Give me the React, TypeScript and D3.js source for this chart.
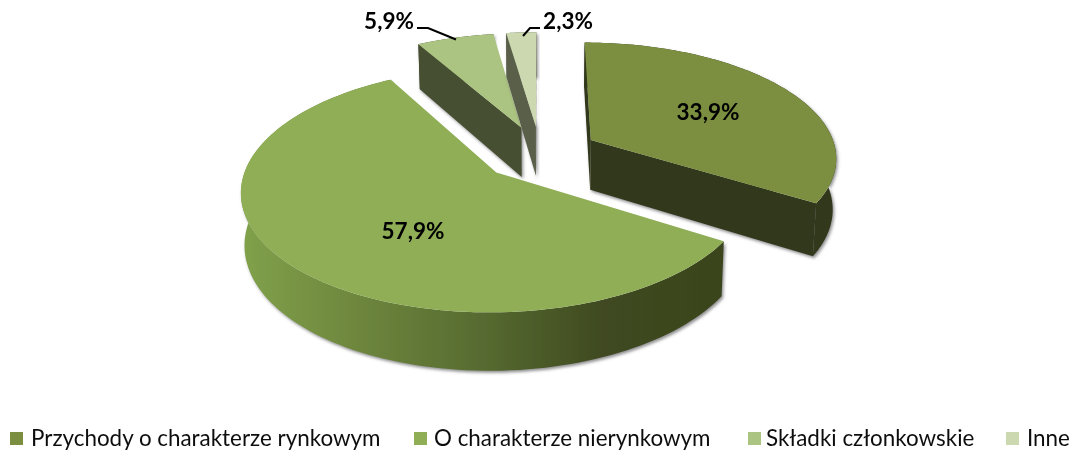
import React from "react";
import * as d3 from "d3";

const categories = ["Przychody o charakterze rynkowym", "O charakterze nierynkowym", "Składki członkowskie", "Inne"];
const values = [33.9, 57.9, 5.9, 2.3];
const valueLabels = ["33,9%", "57,9%", "5,9%", "2,3%"];
const topColors = ["#7b8f40", "#8fae56", "#abc482", "#cbd8b0"];
const wallColors = ["#33391a", "#3f4a20", "#464f30", "#5a5f4a"];
const legendSquareX = [10, 414, 748, 1006];
const legendTextX = [31, 434, 766, 1027];
const labelPos: [number, number][] = [[708, 120], [413, 239], [389, 29], [568, 29]];

const W = 1073, H = 450;
const cx = 540, cy = 153, R = 246, tilt = 0.465, persp = 0.14, explode = 59, depth = 50.5, shrink = 0.988;

type P = [number, number];
function project(u: number, v: number, bottom: boolean): P {
  const k = 1 / (1 - (persp * v) / R);
  const x = u * k;
  const y = v * tilt * k;
  if (!bottom) return [cx + x, cy + y];
  return [cx + x * shrink, cy + y * shrink + depth * k];
}

const pieGen = d3.pie<number>().sort(null).startAngle(0).endAngle(2 * Math.PI);
const arcs = pieGen(values);
const path = d3.line<P>().x(d => d[0]).y(d => d[1]);

function dirOf(a: number): P { return [Math.sin(a), -Math.cos(a)]; }

function sliceGeom(a0: number, a1: number) {
  const mid = (a0 + a1) / 2;
  const [ex, ey] = dirOf(mid);
  const ox = ex * explode, oy = ey * explode;
  const pt = (a: number, r: number, bottom: boolean) => {
    const [dx, dy] = dirOf(a);
    return project(ox + dx * r, oy + dy * r, bottom);
  };
  const angles = d3.range(0, 121).map(i => a0 + ((a1 - a0) * i) / 120);
  const top: P[] = [pt(a0, 0, false), ...angles.map(a => pt(a, R, false))];
  const wallStart: P[] = [pt(a0, 0, false), pt(a0, R, false), pt(a0, R, true), pt(a0, 0, true)];
  const wallEnd: P[] = [pt(a1, R, false), pt(a1, 0, false), pt(a1, 0, true), pt(a1, R, true)];
  const outer: P[] = [...angles.map(a => pt(a, R, false)), ...angles.slice().reverse().map(a => pt(a, R, true))];
  return { top, wallStart, wallEnd, outer };
}

const drawOrder = [2, 3, 0, 1];

export default function App() {
  return (
    <svg width={W} height={H} viewBox={`0 0 ${W} ${H}`} style={{ position: "absolute", left: 0, top: 0, background: "#fff" }}
      fontFamily="Lato, 'Open Sans', sans-serif">
      <defs>
        <linearGradient id="bigWall" gradientUnits="userSpaceOnUse" x1="245" x2="722" y1="0" y2="0">
          <stop offset="0" stopColor="#80a04a" />
          <stop offset="0.22" stopColor="#6f883e" />
          <stop offset="0.5" stopColor="#566a30" />
          <stop offset="0.75" stopColor="#3f4a20" />
          <stop offset="1" stopColor="#3a441e" />
        </linearGradient>
        <filter id="wallShadow" x="-10%" y="-10%" width="120%" height="125%">
          <feDropShadow dx="1.5" dy="2" stdDeviation="1.6" floodColor="#555" floodOpacity="0.65" />
        </filter>
        <filter id="soft" x="0" y="0" width="100%" height="100%">
          <feGaussianBlur stdDeviation="0.45" />
        </filter>
      </defs>
      <g filter="url(#soft)">
        {drawOrder.map(i => {
          const g = sliceGeom(arcs[i].startAngle, arcs[i].endAngle);
          const wallFill = i === 1 ? "url(#bigWall)" : wallColors[i];
          const walls = [g.wallStart, g.wallEnd].filter(w => d3.polygonArea(w) > 0);
          return (
            <g key={i}>
              <g filter="url(#wallShadow)">
                <path d={path(g.outer) + "Z"} fill={wallFill} />
                {walls.map((w, j) => <path key={j} d={path(w) + "Z"} fill={wallColors[i]} />)}
              </g>
              <path d={path(g.top) + "Z"} fill={topColors[i]} />
            </g>
          );
        })}
        <polyline points="417,28 428,28 456,39.5" fill="none" stroke="#000" strokeWidth="2" />
        <polyline points="540,28 530,28 523,36" fill="none" stroke="#000" strokeWidth="2" />
        {valueLabels.map((t, i) => (
          <text key={t} x={labelPos[i][0]} y={labelPos[i][1]} textAnchor="middle" fontWeight="700" fontSize="22.5" fill="#000">{t}</text>
        ))}
        {categories.map((c, i) => (
          <g key={c}>
            <rect x={legendSquareX[i]} y={432} width={13} height={13} fill={topColors[i]} />
            <text x={legendTextX[i]} y={446} fontSize="22.4" fill="#111">{c}</text>
          </g>
        ))}
      </g>
    </svg>
  );
}
